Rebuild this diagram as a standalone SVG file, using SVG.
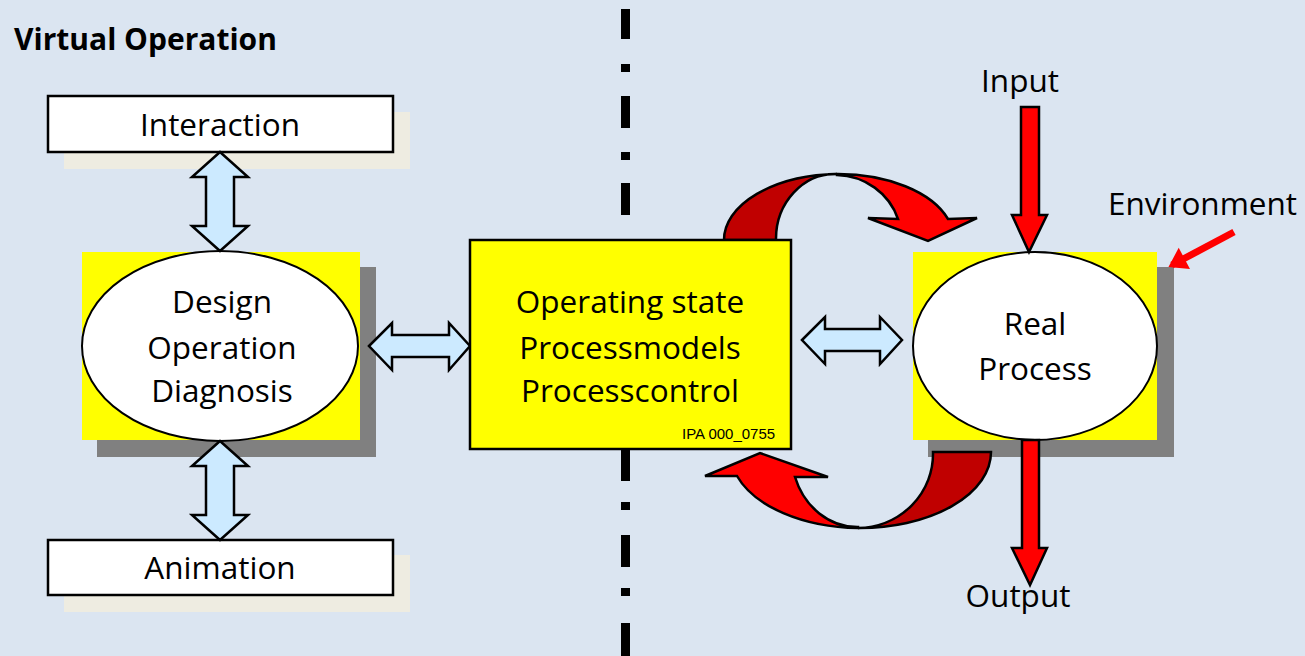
<svg xmlns="http://www.w3.org/2000/svg" width="1305" height="656" viewBox="0 0 1305 656">
<defs>
<style>
.t{font-family:"Open Sans","Liberation Sans",sans-serif;font-size:31.5px;fill:#000;text-anchor:middle}
.ys{fill:#808080}
.yb{fill:#ffff00}
.el{fill:#fff;stroke:#000;stroke-width:2}
.bx{fill:#fff;stroke:#000;stroke-width:2.5}
.bs{fill:#eeece1}
.ba{fill:#cceaff;stroke:#000;stroke-width:2.5;stroke-linejoin:miter}
.dd{fill:#000}
.rd{fill:#ff0000;stroke:#000;stroke-width:2.5;stroke-linejoin:miter}
.dk{fill:#c00000;stroke:#000;stroke-width:2.5}
</style>
<marker id="envh" markerWidth="6" markerHeight="6" refX="0" refY="3" orient="auto" markerUnits="userSpaceOnUse" viewBox="0 0 6 6" overflow="visible">
<path d="M-14,-9 L4,3 L-14,15 Z" fill="#ff0000"/>
</marker>
</defs>
<rect width="1305" height="656" fill="#dbe5f1"/>

<!-- dash-dot divider -->
<g id="divider" class="dd">
<rect x="621" y="9" width="9" height="30"/>
<rect x="621" y="64" width="9" height="8"/>
<rect x="621" y="96" width="9" height="32"/>
<rect x="621" y="152" width="9" height="8"/>
<rect x="621" y="183" width="9" height="32"/>
<rect x="621" y="450" width="9" height="31"/>
<rect x="621" y="502" width="9" height="8"/>
<rect x="621" y="535" width="9" height="32"/>
<rect x="621" y="588" width="9" height="8"/>
<rect x="621" y="623" width="9" height="33"/>
</g>

<text x="14" y="50" style="font-family:'Open Sans','Liberation Sans',sans-serif;font-size:30px;font-weight:bold">Virtual Operation</text>

<g id="interaction">
<rect class="bs" x="64" y="112" width="346" height="57"/>
<rect class="bx" x="48" y="96" width="345" height="56"/>
<text class="t" x="220" y="136">Interaction</text>
</g>

<g id="animation">
<rect class="bs" x="64" y="555" width="346" height="57"/>
<rect class="bx" x="48" y="540" width="345" height="55"/>
<text class="t" x="220" y="579">Animation</text>
</g>

<g id="design">
<rect class="ys" x="97" y="267" width="279" height="190"/>
<rect class="yb" x="82" y="252" width="278" height="188"/>
<ellipse class="el" cx="220" cy="346" rx="138" ry="95"/>
<text class="t" x="222" y="313">Design</text>
<text class="t" x="222" y="359">Operation</text>
<text class="t" x="222" y="402">Diagnosis</text>
</g>

<g id="realprocess">
<rect class="ys" x="928" y="267" width="246" height="190"/>
<rect class="yb" x="913" y="252" width="244" height="188"/>
<ellipse class="el" cx="1035" cy="346" rx="122" ry="94"/>
<text class="t" x="1035" y="335">Real</text>
<text class="t" x="1035" y="380">Process</text>
</g>

<g id="connectors">
<!-- top curved arrow -->
<path class="dk" d="M724,240 A116,66 0 0 1 837,174 A59,65 0 0 0 776,240 Z"/>
<path class="rd" d="M837,174 A116,66 0 0 1 948,219 L977,218 L928,241 L868,218 L898,219 A66,64 0 0 0 837,175 Z"/>
<!-- bottom curved arrow -->
<path class="dk" d="M991,452 A131,76 0 0 1 858,528 A76,74 0 0 0 933,452 Z"/>
<path class="rd" d="M858,528 A131,76 0 0 1 737,476 L705,476 L760,453 L828,477 L795,477 A66,74 0 0 0 858,527 Z"/>
<!-- vertical double arrows -->
<path class="ba" d="M220,152 L248,177 L234,177 L234,226 L248,226 L220,251 L192,226 L206,226 L206,177 L192,177 Z"/>
<path class="ba" d="M220,441 L248,466 L234,466 L234,515 L248,515 L220,540 L192,515 L206,515 L206,466 L192,466 Z"/>
<!-- horizontal double arrows -->
<path class="ba" d="M369,346 L392,323 L392,335 L449,335 L449,323 L470,346 L449,370 L449,357 L392,357 L392,370 Z"/>
<path class="ba" d="M802,340 L825,317 L825,329 L880,329 L880,317 L902,340 L880,364 L880,351 L825,351 L825,364 Z"/>
<!-- input / output -->
<path class="rd" d="M1021,107 L1039,107 L1039,215 L1047,215 L1029,252 L1012,215 L1021,215 Z"/>
<path class="rd" d="M1022,440 L1039,440 L1039,548 L1047,548 L1030,585 L1012,548 L1022,548 Z"/>
<!-- environment arrow -->
<line x1="1234" y1="232" x2="1172" y2="265" stroke="#ff0000" stroke-width="7" marker-end="url(#envh)"/>
</g>

<g id="operating">
<rect x="470" y="240" width="321" height="209" fill="#ffff00" stroke="#000" stroke-width="2.5"/>
<text class="t" x="630" y="313">Operating state</text>
<text class="t" x="630" y="359">Processmodels</text>
<text class="t" x="630" y="402">Processcontrol</text>
<text x="682" y="439" style="font-family:'Liberation Sans',Arial,sans-serif;font-size:15px">IPA 000_0755</text>
</g>

<text class="t" x="1020" y="92">Input</text>
<text class="t" x="1018" y="607">Output</text>
<text x="1108" y="215" style="font-family:'Open Sans','Liberation Sans',sans-serif;font-size:31.5px">Environment</text>
</svg>
